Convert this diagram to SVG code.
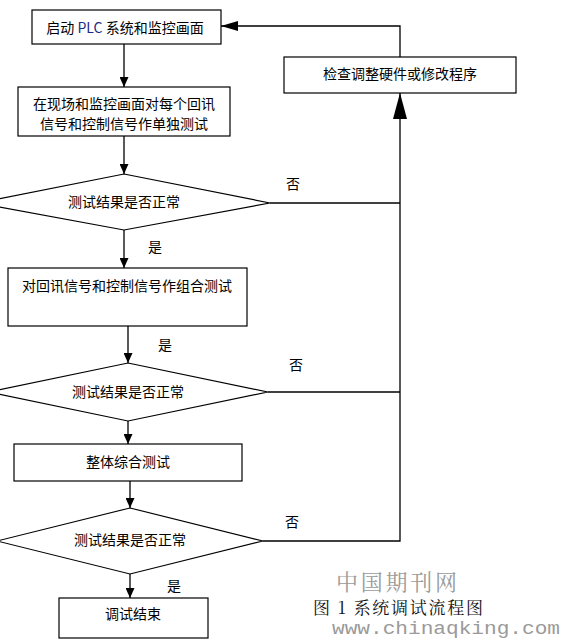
<svg xmlns="http://www.w3.org/2000/svg" width="562" height="640" viewBox="0 0 562 640">
<style>
.box{fill:#fff;stroke:#000;stroke-width:1.2}
.t{font-family:"Noto Sans CJK SC","Noto Sans",sans-serif;font-size:14px;fill:#000;text-anchor:middle;dominant-baseline:central}
.ln{fill:none;stroke:#000;stroke-width:1.3}
.wm{font-family:"Liberation Serif","Noto Serif CJK SC","Noto Sans CJK SC",serif;fill:#9a9a9a}
</style>
<defs>
<marker id="ah" markerUnits="userSpaceOnUse" markerWidth="10" markerHeight="9" refX="10" refY="4.5" orient="auto">
<path d="M0,0 L10,4.5 L0,9 z" fill="#000"/>
</marker>
<marker id="ahL" markerUnits="userSpaceOnUse" markerWidth="17" markerHeight="10" refX="17" refY="5" orient="auto">
<path d="M0,0 L17,5 L0,10 z" fill="#000"/>
</marker>
<marker id="ahU" markerUnits="userSpaceOnUse" markerWidth="26" markerHeight="14" refX="26" refY="7" orient="auto">
<path d="M0,0 L26,7 L0,14 z" fill="#000"/>
</marker>
</defs>
<rect width="562" height="640" fill="#fff"/>
<g id="connectors">
<line class="ln" x1="124" y1="44" x2="124" y2="87" marker-end="url(#ah)"/>
<line class="ln" x1="124" y1="136" x2="124" y2="174" marker-end="url(#ah)"/>
<line class="ln" x1="124" y1="230" x2="124" y2="268" marker-end="url(#ah)"/>
<line class="ln" x1="128" y1="326" x2="128" y2="363" marker-end="url(#ah)"/>
<line class="ln" x1="128" y1="421" x2="128" y2="444" marker-end="url(#ah)"/>
<line class="ln" x1="130" y1="481" x2="130" y2="508" marker-end="url(#ah)"/>
<line class="ln" x1="130" y1="574" x2="130" y2="598" marker-end="url(#ah)"/>
<polyline class="ln" points="270,203 400,203"/>
<polyline class="ln" points="268,392 400,392"/>
<polyline class="ln" points="263,541 400,541 400,93" marker-end="url(#ahU)"/>
<polyline class="ln" points="400,57 400,26 221,26" marker-end="url(#ahL)"/>
<text class="t" x="293" y="183">否</text>
<text class="t" x="155" y="246">是</text>
<text class="t" x="165" y="344">是</text>
<text class="t" x="296" y="364">否</text>
<text class="t" x="292" y="521">否</text>
<text class="t" x="174" y="585">是</text>
</g>
<g id="n1">
<rect class="box" x="32" y="10" width="189" height="34"/>
<text class="t" x="125" y="27">启动 <tspan fill="#1e2a8a">PLC</tspan> 系统和监控画面</text>
</g>
<g id="n2">
<rect class="box" x="18" y="87" width="212" height="49"/>
<text class="t" x="124" y="103">在现场和监控画面对每个回讯</text>
<text class="t" x="124" y="123">信号和控制信号作单独测试</text>
</g>
<g id="d1">
<polygon class="box" points="124,174 270,203 124,230 -22,203"/>
<text class="t" x="124" y="201">测试结果是否正常</text>
</g>
<g id="n3">
<rect class="box" x="8" y="268" width="239" height="58"/>
<text class="t" x="127" y="285">对回讯信号和控制信号作组合测试</text>
</g>
<g id="d2">
<polygon class="box" points="128,363 268,392 128,421 -12,392"/>
<text class="t" x="128" y="391">测试结果是否正常</text>
</g>
<g id="n4">
<rect class="box" x="14" y="444" width="228" height="37"/>
<text class="t" x="128" y="461">整体综合测试</text>
</g>
<g id="d3">
<polygon class="box" points="130,508 263,541 130,574 -3,541"/>
<text class="t" x="130" y="539">测试结果是否正常</text>
</g>
<g id="n5">
<rect class="box" x="59" y="598" width="149" height="40"/>
<text class="t" x="133" y="613">调试结束</text>
</g>
<g id="n6">
<rect class="box" x="284" y="57" width="232" height="36"/>
<text class="t" x="400" y="73">检查调整硬件或修改程序</text>
</g>
<g id="caption">
<text class="wm" x="336" y="590" font-size="22" textLength="121" lengthAdjust="spacing">中国期刊网</text>
<text x="313" y="614" font-family="'Noto Serif CJK SC','Noto Sans CJK SC',serif" font-size="17" fill="#111" textLength="170" lengthAdjust="spacing">图 1  系统调试流程图</text>
<text x="332" y="634" font-family="'Liberation Mono',monospace" font-size="19" fill="#9a9a9a" textLength="228" lengthAdjust="spacingAndGlyphs">www.chinaqking.com</text>
</g>
</svg>
